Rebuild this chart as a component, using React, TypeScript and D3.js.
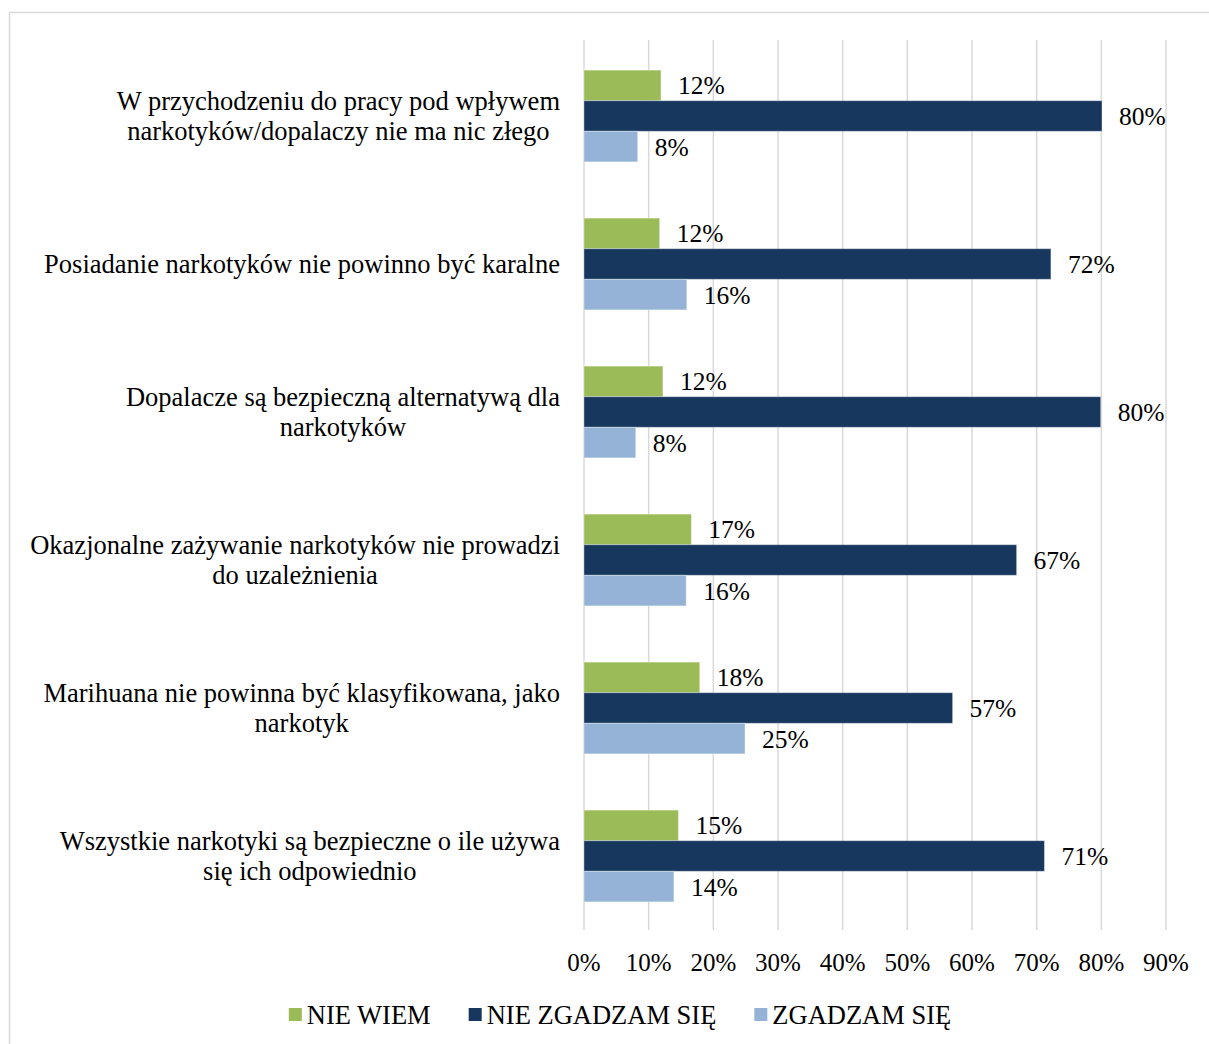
import React, { useEffect, useRef } from "react";
import * as d3 from "d3";

const categories: string[][] = [
  ["W przychodzeniu do pracy pod wpływem", "narkotyków/dopalaczy nie ma nic złego"],
  ["Posiadanie narkotyków nie powinno być karalne"],
  ["Dopalacze są bezpieczną alternatywą dla", "narkotyków"],
  ["Okazjonalne zażywanie narkotyków nie prowadzi", "do uzależnienia"],
  ["Marihuana nie powinna być klasyfikowana, jako", "narkotyk"],
  ["Wszystkie narkotyki są bezpieczne o ile używa", "się ich odpowiednio"],
];

const seriesNames = ["NIE WIEM", "NIE ZGADZAM SIĘ", "ZGADZAM SIĘ"];
const seriesColors = ["#9BBB59", "#17375E", "#95B3D7"];

const nieWiem = [0.119, 0.117, 0.122, 0.166, 0.179, 0.146];
const nieZgadzam = [0.801, 0.722, 0.799, 0.669, 0.57, 0.712];
const zgadzam = [0.083, 0.159, 0.08, 0.158, 0.249, 0.139];

const xTicks = [0, 0.1, 0.2, 0.3, 0.4, 0.5, 0.6, 0.7, 0.8, 0.9];

const W = 1209;
const H = 1044;
const FONT = "'Liberation Serif', 'Times New Roman', serif";

export default function App() {
  const ref = useRef<SVGSVGElement | null>(null);

  useEffect(() => {
    const svg = d3.select(ref.current);
    svg.selectAll("*").remove();

    svg
      .append("rect")
      .attr("x", 9.5)
      .attr("y", 12.5)
      .attr("width", 1220)
      .attr("height", 1060)
      .attr("fill", "white")
      .attr("stroke", "#d9d9d9")
      .attr("stroke-width", 1.5);

    const x = d3.scaleLinear().domain([0, 0.9]).range([584, 1166]);
    const y = d3
      .scaleBand<number>()
      .domain(d3.range(categories.length))
      .range([42, 930])
      .paddingInner(0.38)
      .paddingOuter(0.19);
    const ys = d3
      .scaleBand<number>()
      .domain([0, 1, 2])
      .range([0, y.bandwidth()]);

    // gridlines
    svg
      .append("g")
      .selectAll("line")
      .data(xTicks)
      .join("line")
      .attr("x1", (d) => x(d))
      .attr("x2", (d) => x(d))
      .attr("y1", 40)
      .attr("y2", 930)
      .attr("stroke", "#d9d9d9")
      .attr("stroke-width", 1.5);

    // tick labels
    svg
      .append("g")
      .selectAll("text")
      .data(xTicks)
      .join("text")
      .attr("x", (d) => x(d))
      .attr("y", 962)
      .attr("dy", "0.35em")
      .attr("text-anchor", "middle")
      .attr("font-family", FONT)
      .attr("font-size", 25)
      .attr("fill", "#000")
      .text((d) => d3.format(".0%")(d));

    const series = [nieWiem, nieZgadzam, zgadzam];
    const fmt = d3.format(".0%");

    series.forEach((vals, si) => {
      const g = svg.append("g");
      g.selectAll("rect")
        .data(vals)
        .join("rect")
        .attr("x", x(0))
        .attr("y", (_, i) => (y(i) as number) + (ys(si) as number))
        .attr("width", (d) => x(d) - x(0))
        .attr("height", ys.bandwidth())
        .attr("fill", seriesColors[si])
        .attr("stroke", "rgba(255,255,255,0.35)")
        .attr("stroke-width", 1);
      g.selectAll("text")
        .data(vals)
        .join("text")
        .attr("x", (d) => x(d) + 17)
        .attr("y", (_, i) => (y(i) as number) + (ys(si) as number) + ys.bandwidth() / 2)
        .attr("dy", "0.35em")
        .attr("font-family", FONT)
        .attr("font-size", 25.5)
        .attr("fill", "#000")
        .text((d) => fmt(d));
    });

    // category labels
    const rightEdge = 560;
    const lineH = 30;
    categories.forEach((lines, i) => {
      const cy = (y(i) as number) + y.bandwidth() / 2;
      const g = svg.append("g");
      const texts = lines.map((ln, li) =>
        g
          .append("text")
          .attr("font-family", FONT)
          .attr("font-size", 26.5)
          .attr("fill", "#000")
          .attr("text-anchor", "middle")
          .attr("y", cy + (li - (lines.length - 1) / 2) * lineH)
          .attr("dy", "0.35em")
          .text(ln)
      );
      const widths = texts.map((t) => (t.node() as SVGTextElement).getComputedTextLength());
      const maxW = Math.max(...widths);
      const center = rightEdge - maxW / 2;
      texts.forEach((t) => t.attr("x", center));
    });

    // legend
    const legend = svg.append("g");
    const sq = 13;
    const gapText = 5;
    const gapItem = 38;
    const items = seriesNames.map((name, i) => {
      const t = legend
        .append("text")
        .attr("font-family", FONT)
        .attr("font-size", 26.5)
        .attr("fill", "#000")
        .attr("y", 1015)
        .attr("dy", "0.35em")
        .text(name);
      const r = legend
        .append("rect")
        .attr("width", sq)
        .attr("height", sq)
        .attr("y", 1008)
        .attr("fill", seriesColors[i]);
      return { t, r, w: (t.node() as SVGTextElement).getComputedTextLength() };
    });
    const total =
      items.reduce((s, it) => s + sq + gapText + it.w, 0) + gapItem * (items.length - 1);
    let cx = 620 - total / 2;
    items.forEach((it) => {
      it.r.attr("x", cx);
      it.t.attr("x", cx + sq + gapText);
      cx += sq + gapText + it.w + gapItem;
    });
  }, []);

  return (
    <svg
      ref={ref}
      width={W}
      height={H}
      style={{ position: "absolute", left: 0, top: 0, display: "block", background: "#fff" }}
    />
  );
}
